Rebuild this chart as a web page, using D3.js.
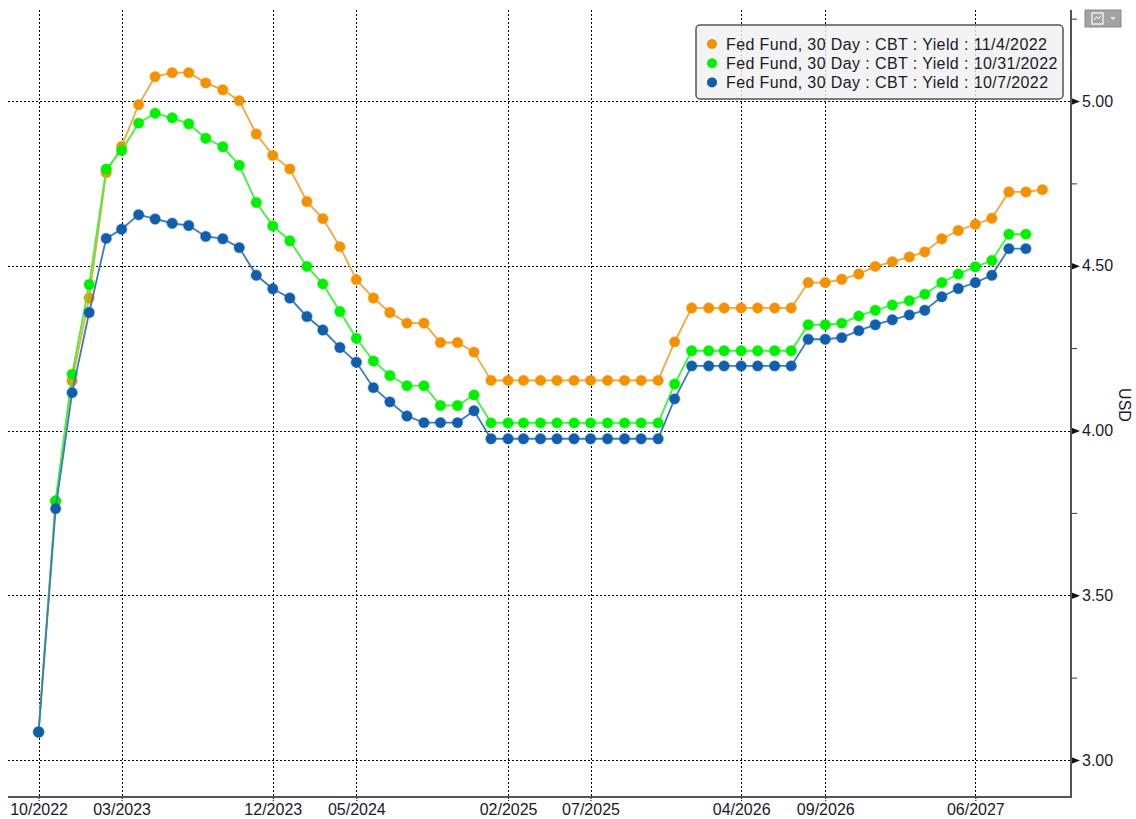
<!DOCTYPE html>
<html>
<head>
<meta charset="utf-8">
<script src="https://cdn.jsdelivr.net/npm/d3@7"></script>
<style>
  body { margin: 0; background: #fff; }
  svg { display: block; font-family: "Liberation Sans", Arial, sans-serif; }
</style>
</head>
<body>
<div id="chart"></div>
<script>
// months start at 10/2022, one point per month
let startMonth = new Date(2022, 9, 1);

let tickLabels = ["10/2022", "03/2023", "12/2023", "05/2024", "02/2025", "07/2025", "04/2026", "09/2026", "06/2027"];

let seriesNames = [
  "Fed Fund, 30 Day : CBT : Yield : 11/4/2022",
  "Fed Fund, 30 Day : CBT : Yield : 10/31/2022",
  "Fed Fund, 30 Day : CBT : Yield : 10/7/2022"
];

let nov4 = [3.085, 3.785, 4.151, 4.402, 4.783, 4.862, 4.989, 5.074, 5.086, 5.086,
  5.055, 5.034, 5.001, 4.900, 4.835, 4.794, 4.695, 4.643, 4.558, 4.458,
  4.402, 4.358, 4.326, 4.326, 4.267, 4.267, 4.238, 4.152, 4.152, 4.152,
  4.152, 4.152, 4.152, 4.152, 4.152, 4.152, 4.152, 4.152, 4.269, 4.372,
  4.372, 4.372, 4.372, 4.372, 4.372, 4.372, 4.449, 4.449, 4.459, 4.475,
  4.498, 4.512, 4.527, 4.542, 4.582, 4.607, 4.626, 4.644, 4.724, 4.724,
  4.731];

let oct31 = [3.085, 3.787, 4.171, 4.443, 4.794, 4.850, 4.933, 4.963, 4.949, 4.931,
  4.887, 4.861, 4.805, 4.692, 4.621, 4.576, 4.498, 4.445, 4.361, 4.280,
  4.211, 4.167, 4.136, 4.136, 4.076, 4.076, 4.108, 4.023, 4.023, 4.023,
  4.023, 4.023, 4.023, 4.023, 4.023, 4.023, 4.023, 4.023, 4.141, 4.242,
  4.242, 4.242, 4.242, 4.242, 4.242, 4.242, 4.321, 4.321, 4.326, 4.348,
  4.365, 4.381, 4.394, 4.414, 4.449, 4.475, 4.497, 4.516, 4.596, 4.596];

let oct7 = [3.085, 3.763, 4.115, 4.358, 4.583, 4.611, 4.655, 4.642, 4.629, 4.622,
  4.589, 4.582, 4.555, 4.471, 4.430, 4.402, 4.346, 4.305, 4.252, 4.207,
  4.130, 4.087, 4.044, 4.024, 4.024, 4.024, 4.060, 3.975, 3.975, 3.975,
  3.975, 3.975, 3.975, 3.975, 3.975, 3.975, 3.975, 3.975, 4.096, 4.196,
  4.196, 4.196, 4.196, 4.196, 4.196, 4.196, 4.277, 4.277, 4.282, 4.303,
  4.321, 4.336, 4.351, 4.365, 4.406, 4.431, 4.449, 4.471, 4.552, 4.552];

let yTicks = [3.00, 3.25, 3.50, 3.75, 4.00, 4.25, 4.50, 4.75, 5.00, 5.25];

let colors = ["#f39200", "#00f000", "#105eac"];
let lineColors = ["#f5a63a", "#3cf53c", "#3a7bc2"];

let width = 1136, height = 819;
let plot = {left: 8, right: 1071, top: 10, bottom: 797};
let fontSize = 16;
let textColor = "#1a1a2a";

let svg = d3.select("#chart").append("svg")
    .attr("width", width)
    .attr("height", height);

let parseTick = d3.timeParse("%m/%Y");

let x = d3.scaleTime()
    .domain([startMonth, d3.timeMonth.offset(startMonth, 60)])
    .range([38.6, 1042.4]);

let y = d3.scaleLinear()
    .domain([3, 5])
    .range([760, 101]);

let tickDates = tickLabels.map(parseTick);
let majors = yTicks.filter(v => Math.round(v * 100) % 50 == 0);

// horizontal gridlines
svg.append("g")
  .selectAll("line")
  .data(majors)
  .enter().append("line")
    .attr("x1", plot.left).attr("x2", plot.right)
    .attr("y1", d => Math.round(y(d)) + 0.5).attr("y2", d => Math.round(y(d)) + 0.5)
    .attr("stroke", "#000").attr("stroke-width", 1)
    .attr("stroke-dasharray", "2,2");

// vertical gridlines
svg.append("g")
  .selectAll("line")
  .data(tickDates)
  .enter().append("line")
    .attr("x1", d => Math.round(x(d)) + 0.5).attr("x2", d => Math.round(x(d)) + 0.5)
    .attr("y1", plot.top).attr("y2", plot.bottom)
    .attr("stroke", "#000").attr("stroke-width", 1)
    .attr("stroke-dasharray", "2,2");

// bottom axis
let xAxis = svg.append("g")
    .attr("transform", "translate(0," + plot.bottom + ")")
    .call(d3.axisBottom(x).tickValues(tickDates).tickFormat(d3.timeFormat("%m/%Y")).tickSize(4).tickPadding(3));
xAxis.select(".domain").remove();
xAxis.selectAll("line").attr("stroke", "#000").attr("stroke-dasharray", "2,1");
xAxis.selectAll("text").attr("font-size", fontSize).attr("fill", textColor)
    .attr("font-family", "Liberation Sans, Arial, sans-serif");
svg.append("line")
    .attr("x1", plot.left).attr("x2", plot.right + 1)
    .attr("y1", plot.bottom).attr("y2", plot.bottom)
    .attr("stroke", "#555").attr("stroke-width", 2);

// right axis
let yAxis = svg.append("g")
    .attr("transform", "translate(" + plot.right + ",0)")
    .call(d3.axisRight(y).tickValues(yTicks)
        .tickFormat(d => majors.includes(d) ? d3.format(".2f")(d) : "")
        .tickSize(6).tickPadding(5));
yAxis.select(".domain").remove();
yAxis.selectAll("line").attr("stroke", "#333");
yAxis.selectAll("text").attr("font-size", fontSize).attr("fill", textColor)
    .attr("font-family", "Liberation Sans, Arial, sans-serif");
yAxis.selectAll(".tick")
  .filter(d => majors.includes(d))
  .append("path")
    .attr("d", "M0,-3.5L9,0L0,3.5Z")
    .attr("fill", "#111");
svg.append("line")
    .attr("x1", plot.right).attr("x2", plot.right)
    .attr("y1", plot.top).attr("y2", plot.bottom)
    .attr("stroke", "#555").attr("stroke-width", 2);

svg.append("text")
    .attr("transform", "translate(1119,405) rotate(90)")
    .attr("text-anchor", "middle")
    .attr("font-size", fontSize).attr("fill", textColor)
    .text("USD");

// little chart button top right
let btn = svg.append("g").attr("transform", "translate(1085,10)");
btn.append("rect").attr("width", 36).attr("height", 17).attr("fill", "#a3a3a3").attr("stroke", "#8a8a8a");
btn.append("rect").attr("x", 7).attr("y", 3).attr("width", 11).attr("height", 11)
    .attr("fill", "none").attr("stroke", "#fff").attr("stroke-width", 1.2);
btn.append("path").attr("d", "M9,10L11.5,6.5L13.5,9L16,5.5").attr("fill", "none").attr("stroke", "#fff");
btn.append("path").attr("d", "M25,7L31,7L28,10Z").attr("fill", "#e6e6e6");

// series
let allSeries = [nov4, oct31, oct7];
let line = d3.line()
    .x((d, i) => x(d3.timeMonth.offset(startMonth, i)))
    .y(d => y(d));

allSeries.forEach((vals, k) => {
  let g = svg.append("g");
  g.append("path")
    .datum(vals)
    .attr("d", line)
    .attr("fill", "none")
    .attr("stroke", lineColors[k])
    .attr("stroke-width", 1.8);
  g.selectAll("circle")
    .data(vals)
    .enter().append("circle")
      .attr("cx", (d, i) => x(d3.timeMonth.offset(startMonth, i)))
      .attr("cy", d => y(d))
      .attr("r", 5.2)
      .attr("fill", colors[k])
      .attr("stroke", colors[k])
      .attr("stroke-opacity", 0.35)
      .attr("stroke-width", 1.5);
});

// legend (a little see-through, the grid shows behind it)
let legend = svg.append("g").attr("transform", "translate(696,25)");
legend.append("rect")
    .attr("width", 367).attr("height", 74).attr("rx", 4)
    .attr("fill", "#f0f0f0").attr("fill-opacity", 0.82)
    .attr("stroke", "#555").attr("stroke-width", 1.5);
seriesNames.forEach((name, k) => {
  let row = legend.append("g").attr("transform", "translate(0," + (19 + k * 19.2) + ")");
  row.append("circle").attr("cx", 16).attr("cy", 0).attr("r", 5).attr("fill", colors[k]);
  row.append("text").attr("x", 30).attr("y", 0).attr("dy", "0.36em")
    .attr("font-size", fontSize).attr("letter-spacing", "0.4px")
    .attr("fill", textColor).text(name);
});
</script>
</body>
</html>
